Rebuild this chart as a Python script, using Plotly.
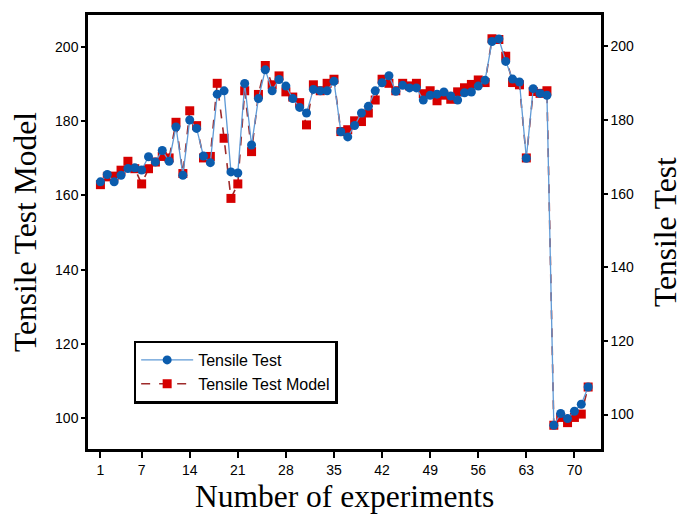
import plotly.graph_objects as go

experiments = list(range(1, 73))

tensile_test = [
    163.2, 165.2, 163.2, 165.0, 166.8, 167.0, 166.4, 170.0, 168.6, 171.7,
    168.8, 178.1, 165.0, 180.0, 177.7, 170.2, 168.4, 187.0, 187.9, 165.9,
    165.6, 189.9, 173.2, 185.8, 193.6, 187.9, 191.0, 189.2, 185.8, 183.4,
    181.9, 188.3, 187.9, 187.9, 190.5, 176.8, 175.4, 178.5, 181.9, 183.7,
    187.9, 190.1, 192.0, 187.8, 189.4, 188.7, 188.7, 185.4, 186.7, 187.0,
    187.6, 186.5, 185.4, 187.4, 187.6, 189.2, 190.8, 201.3, 202.0, 195.9,
    191.1, 190.3, 169.6, 188.5, 187.2, 186.7, 97.1, 100.3, 98.9, 100.9,
    102.8, 107.5,
]

tensile_model = [
    162.9, 165.0, 165.2, 166.8, 169.2, 167.2, 163.1, 167.2, 169.0, 170.5,
    170.1, 179.7, 165.9, 182.8, 178.8, 170.1, 170.5, 190.2, 175.4, 159.2,
    163.1, 188.2, 171.8, 187.2, 195.0, 189.8, 192.2, 187.9, 186.5, 185.0,
    179.0, 189.8, 188.2, 190.2, 191.3, 177.2, 177.7, 180.1, 179.9, 182.2,
    185.7, 191.3, 190.2, 188.2, 190.2, 189.5, 190.2, 187.4, 188.2, 185.5,
    187.0, 185.9, 187.9, 189.0, 189.9, 191.1, 190.4, 202.2, 202.0, 197.5,
    190.4, 189.8, 170.1, 188.0, 187.5, 188.2, 98.1, 100.2, 98.8, 100.2,
    101.1, 108.4,
]

x_ticks = [1, 7, 14, 21, 28, 35, 42, 49, 56, 63, 70]
y_ticks = [100, 120, 140, 160, 180, 200]

tick_font = dict(family="Liberation Sans, Arial, sans-serif", size=14, color="black")
title_font = dict(family="Liberation Serif, Times New Roman, serif", size=31.5, color="black")

fig = go.Figure()
fig.add_trace(go.Scatter(
    x=experiments, y=tensile_test, name="Tensile Test", yaxis="y2",
    mode="lines+markers",
    line=dict(color="#5f9ad6", width=1.3),
    marker=dict(symbol="circle", size=9, color="#0b5cad"),
))
fig.add_trace(go.Scatter(
    x=experiments, y=tensile_model, name="Tensile Test Model", yaxis="y",
    mode="lines+markers",
    line=dict(color="#9e2a2a", width=1.6, dash="dash"),
    marker=dict(symbol="square", size=9, color="#d60000"),
))

fig.update_layout(
    width=681, height=518, autosize=False,
    margin=dict(l=88, r=80, t=12, b=69),
    plot_bgcolor="white", paper_bgcolor="white",
    showlegend=True,
    legend=dict(
        x=0.089, y=0.25, xanchor="left", yanchor="top",
        bordercolor="black", borderwidth=2.5, bgcolor="white",
        font=dict(family="Liberation Sans, Arial, sans-serif", size=16, color="black"),
        traceorder="normal", itemwidth=52,
    ),
    xaxis=dict(
        range=[-0.81, 73.87], tickvals=x_ticks, ticktext=[str(t) for t in x_ticks],
        showgrid=False, zeroline=False,
        showline=True, linecolor="black", linewidth=2.5, mirror=True,
        ticks="outside", ticklen=6, tickwidth=2, tickcolor="black",
        tickfont=tick_font,
    ),
    yaxis=dict(
        range=[91.7, 208.6], tickvals=y_ticks,
        showgrid=False, zeroline=False,
        showline=True, linecolor="black", linewidth=2.5,
        ticks="outside", ticklen=4, tickwidth=2, tickcolor="black",
        tickfont=tick_font,
    ),
    yaxis2=dict(
        range=[90.65, 208.5], tickvals=y_ticks, overlaying="y", side="right",
        showgrid=False, zeroline=False,
        showline=True, linecolor="black", linewidth=2.5,
        ticks="outside", ticklen=4, tickwidth=2, tickcolor="black",
        tickfont=tick_font,
    ),
    annotations=[
        dict(text="Number of experiments", xref="paper", yref="paper",
             x=0.5, y=-0.11, xanchor="center", yanchor="middle",
             showarrow=False, font=title_font),
        dict(text="Tensile Test Model", xref="paper", yref="paper",
             x=-0.1228, y=0.5, xanchor="center", yanchor="middle", textangle=-90,
             showarrow=False, font=title_font),
        dict(text="Tensile Test", xref="paper", yref="paper",
             x=1.1248, y=0.5, xanchor="center", yanchor="middle", textangle=-90,
             showarrow=False, font=title_font),
    ],
)

fig.write_html("out.html")
